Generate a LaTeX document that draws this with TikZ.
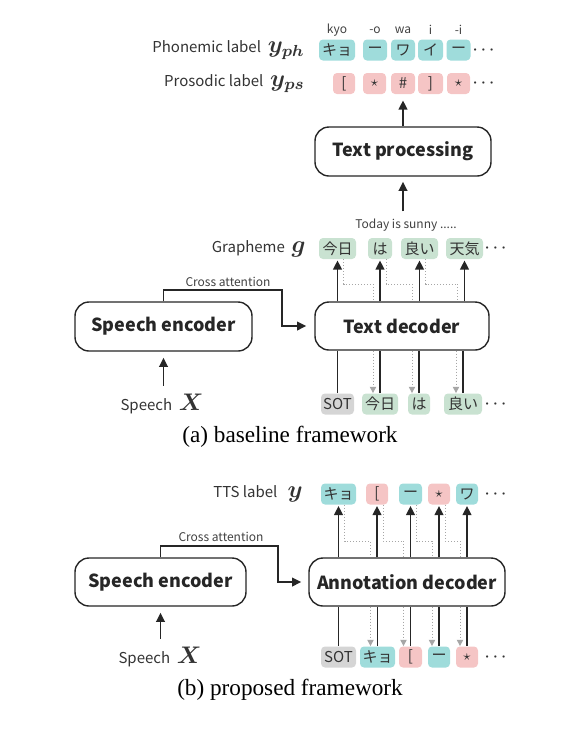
\documentclass[tikz,border=0pt]{standalone}
\usepackage{amsmath,amssymb}
\usepackage{fontspec}
\setmainfont{Liberation Serif}
\newfontfamily\jpfont{Noto Sans CJK JP}
\usetikzlibrary{arrows.meta,positioning,calc}
\definecolor{phcol}{HTML}{9FDCDB}
\definecolor{pscol}{HTML}{F5C5C5}
\definecolor{grcol}{HTML}{C9E2D1}
\definecolor{sotcol}{HTML}{D5D5D5}
\newcommand{\mth}[1]{{\fontsize{12}{14}\selectfont$\boldsymbol{#1}$}}
\newcommand{\more}{{\fontsize{7}{7}\selectfont$\boldsymbol{\cdots}$}}
\tikzset{
  block/.style={draw=black!85,rounded corners=7pt,line width=0.7pt,inner sep=0pt,
                font=\jpfont\bfseries\fontsize{9}{11}\selectfont,text=black!85,fill=white},
  tok/.style  ={rounded corners=2pt,inner sep=0pt,minimum height=10.5pt,
                font=\jpfont\fontsize{7.5}{9}\selectfont,text=black!80},
  lbl/.style  ={font=\jpfont\fontsize{7.5}{9}\selectfont,text=black!80,inner sep=0pt},
  note/.style ={font=\jpfont\fontsize{6}{7}\selectfont,text=black!75,inner sep=0pt},
  captxt/.style={font=\fontsize{11.6}{13}\selectfont,inner sep=0pt},
  flow/.style ={-{Triangle[length=1.6mm,width=1.5mm]},line width=0.9pt,black!85},
  link/.style ={line width=0.9pt,black!85},
  feed/.style ={densely dotted,line width=0.5pt,gray!70},
  feedin/.style={feed,-{Triangle[length=1.1mm,width=1.1mm]}},
}
\begin{document}
\begin{tikzpicture}[x=0.5pt,y=-0.5pt]
  \useasboundingbox (0,0) rectangle (579,730);
  % (a) baseline: labels after text processing
  \node[lbl,anchor=east] (phlab) at (305,50) {Phonemic label\ \ \mth{y_{ph}}};
  \node[lbl,anchor=east] (pslab) at (305,83.5) {Prosodic label\ \ \mth{y_{ps}}};
  \foreach \n/\x/\w/\t/\r in {1/337/36/キョ/kyo, 2/375/24/ー/-o, 3/403/24/ワ/wa,
                              4/430.5/25/イ/i, 5/458.5/24/ー/-i}{
    \node[tok,fill=phcol,minimum width=\w*.5pt] (ph\n) at (\x,50) {\t};
    \node[note] (rd\n) at (\x,30) {\r};
  }
  \foreach \n/\x/\w/\t in {1/344/22/{[}, 2/374.5/23/$\star$, 3/403/24/\#,
                           4/430.5/25/{]}, 5/458.5/23/$\star$}
    \node[tok,fill=pscol,minimum width=\w*.5pt] (ps\n) at (\x,83.5) {\t};
  \node[lbl] (phdots) at (485,50) {\more};
  \node[lbl] (psdots) at (485,83.5) {\more};
  % text processing
  \node[block,minimum width=176*.5pt,minimum height=49*.5pt] (tproc) at (403,151.5) {Text processing};
  \node[note] (today) at (406,225) {Today is sunny .....};
  \draw[flow,shorten >=3pt] (tproc.north) -- (ps3.south);
  \draw[flow,shorten <=3.5pt,shorten >=2.5pt] (today.north -| tproc.south) -- (tproc.south);
  % graphemes out of the text decoder
  \node[lbl,anchor=east] (grlab) at (306,248.5) {Grapheme\ \ \mth{g}};
  \foreach \n/\x/\w/\t in {1/337.5/37/今日, 2/380/24/は, 3/419.5/37/良い, 4/464.5/37/天気}
    \node[tok,fill=grcol,minimum width=\w*.5pt] (gr\n) at (\x,248.5) {\t};
  \node[lbl] (grdots) at (497,248.5) {\more};
  \node[block,minimum width=174*.5pt,minimum height=48*.5pt] (tdec) at (402,326) {Text decoder};
  \foreach \n/\x/\w/\c/\t in {1/337.5/33/sotcol/SOT, 2/380/36/grcol/今日, 3/419/22/grcol/は,
                              4/463/38/grcol/良い}
    \node[tok,fill=\c,minimum width=\w*.5pt] (in\n) at (\x,404) {\t};
  \node[lbl] (indots) at (497,404) {\more};
  \coordinate (lvA) at (0,284);
  \foreach \n in {1,...,4}{
    \draw[link] (in\n.north) -- (in\n.north |- tdec.south);
    \draw[flow,shorten >=0.5pt] (gr\n.south |- tdec.north) -- (gr\n.south);
  }
  \foreach \a/\b in {1/2,2/3,3/4}{
    \draw[feed] ([xshift=3pt]gr\a.south) |- ([xshift=-3.5pt]gr\b.south |- lvA)
      -- ([xshift=-3.5pt]gr\b.south |- tdec.north);
    \draw[feedin] ([xshift=-3.5pt]in\b.north |- tdec.south) -- ([xshift=-3.5pt]in\b.north);
  }
  % speech encoder (a)
  \node[block,minimum width=177*.5pt,minimum height=49*.5pt] (encA) at (163.5,326.5) {Speech encoder};
  \node[lbl] (spA) at (162,404) {Speech\ \ \mth{X}};
  \draw[flow,shorten <=4pt,shorten >=3pt] (spA.north -| encA.south) -- (encA.south);
  \coordinate (bendA) at (282,290);
  \draw[flow,shorten >=4pt] (encA.north) |- (bendA) |- (tdec.west);
  \node[note] (caA) at (228,282) {Cross attention};
  \node[captxt] (capA) at (290,437) {(a) baseline framework};

  % (b) proposed: one decoder for both labels
  \node[lbl,anchor=east] (ttslab) at (303,494) {TTS label\ \ \ \mth{y}};
  \foreach \n/\x/\w/\c/\t in {1/338.5/35/phcol/キョ, 2/377/22/pscol/{[}, 3/410.5/23/phcol/ー,
                              4/439/22/pscol/$\star$, 5/467/22/phcol/ワ}
    \node[tok,fill=\c,minimum width=\w*.5pt] (tts\n) at (\x,494) {\t};
  \node[lbl] (ttsdots) at (497,494) {\more};
  \node[block,minimum width=196*.5pt,minimum height=48*.5pt] (adec) at (407,582) {Annotation decoder};
  \foreach \n/\x/\w/\c/\t in {1/338.5/35/sotcol/SOT, 2/377.5/35/phcol/キョ, 3/410.5/23/pscol/{[},
                              4/439/22/phcol/ー, 5/467/22/pscol/$\star$}
    \node[tok,fill=\c,minimum width=\w*.5pt] (ain\n) at (\x,657) {\t};
  \node[lbl] (aindots) at (497,657) {\more};
  \coordinate (lvB) at (0,541);
  \foreach \n in {1,...,5}{
    \draw[link] (ain\n.north) -- (ain\n.north |- adec.south);
    \draw[flow,shorten >=0.5pt] (tts\n.south |- adec.north) -- (tts\n.south);
  }
  \foreach \a/\b in {1/2,2/3,3/4,4/5}{
    \draw[feed] ([xshift=3pt]tts\a.south) |- ([xshift=-3.5pt]tts\b.south |- lvB)
      -- ([xshift=-3.5pt]tts\b.south |- adec.north);
    \draw[feedin] ([xshift=-3.5pt]ain\b.north |- adec.south) -- ([xshift=-3.5pt]ain\b.north);
  }
  % speech encoder (b)
  \node[block,minimum width=171*.5pt,minimum height=48*.5pt] (encB) at (160.5,582) {Speech encoder};
  \node[lbl] (spB) at (160,657) {Speech\ \ \mth{X}};
  \draw[flow,shorten <=4pt,shorten >=3pt] (spB.north -| encB.south) -- (encB.south);
  \coordinate (bendB) at (278,546);
  \draw[flow,shorten >=3.5pt] (encB.north) |- (bendB) |- (adec.west);
  \node[note] (caB) at (221,537) {Cross attention};
  \node[captxt] (capB) at (290,690) {(b) proposed framework};
\end{tikzpicture}
\end{document}
